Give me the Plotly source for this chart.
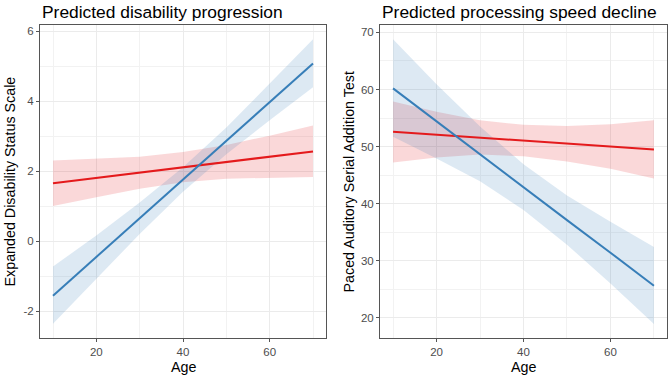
import plotly.graph_objects as go

# ---- data ----
age = [10, 20, 30, 40, 50, 60, 70]

# Left panel: Expanded Disability Status Scale
edss_red_fit = [1.66, 1.81, 1.96, 2.12, 2.27, 2.42, 2.57]
edss_red_lo = [1.01, 1.26, 1.50, 1.69, 1.79, 1.82, 1.84]
edss_red_hi = [2.31, 2.36, 2.42, 2.55, 2.75, 3.02, 3.31]
edss_blue_fit = [-1.55, -0.45, 0.66, 1.77, 2.87, 3.98, 5.08]
edss_blue_lo = [-2.35, -1.07, 0.21, 1.42, 2.49, 3.46, 4.40]
edss_blue_hi = [-0.72, 0.17, 1.11, 2.12, 3.25, 4.50, 5.77]

# Right panel: Paced Auditory Serial Addition Test
pasat_red_fit = [52.6, 52.1, 51.6, 51.05, 50.5, 50.0, 49.5]
pasat_red_lo = [47.2, 48.1, 48.6, 48.3, 47.4, 46.1, 44.4]
pasat_red_hi = [57.9, 56.1, 54.6, 53.8, 53.6, 53.9, 54.6]
pasat_blue_fit = [60.2, 54.4, 48.7, 42.9, 37.1, 31.4, 25.6]
pasat_blue_lo = [51.7, 47.9, 43.9, 38.9, 32.8, 26.0, 18.9]
pasat_blue_hi = [68.8, 60.9, 53.5, 46.9, 41.4, 36.8, 32.4]

x_ticks = [20, 40, 60]
edss_ticks = [-2, 0, 2, 4, 6]
edss_tick_labels = ["-2", "0", "2", "4", "6"]
pasat_ticks = [20, 30, 40, 50, 60, 70]

titles = ["Predicted disability progression", "Predicted processing speed decline"]
y_titles = ["Expanded Disability Status Scale", "Paced Auditory Serial Addition Test"]

RED = "#E41A1C"
BLUE = "#377EB8"
RED_FILL = "rgba(228,26,28,0.17)"
BLUE_FILL = "rgba(55,126,184,0.17)"
FONT = "Liberation Sans, Arial, sans-serif"

fig = go.Figure()


def add_panel(xa, ya, red, blue):
    for fit, lo, hi, fill in [(red[0], red[1], red[2], RED_FILL), (blue[0], blue[1], blue[2], BLUE_FILL)]:
        fig.add_trace(go.Scatter(
            x=age + age[::-1], y=hi + lo[::-1], fill="toself", fillcolor=fill,
            line=dict(width=0), mode="lines", hoverinfo="skip", showlegend=False,
            xaxis=xa, yaxis=ya))
    fig.add_trace(go.Scatter(x=age, y=red[0], mode="lines", line=dict(color=RED, width=2),
                             showlegend=False, xaxis=xa, yaxis=ya))
    fig.add_trace(go.Scatter(x=age, y=blue[0], mode="lines", line=dict(color=BLUE, width=2),
                             showlegend=False, xaxis=xa, yaxis=ya))


add_panel("x", "y", (edss_red_fit, edss_red_lo, edss_red_hi), (edss_blue_fit, edss_blue_lo, edss_blue_hi))
add_panel("x2", "y2", (pasat_red_fit, pasat_red_lo, pasat_red_hi), (pasat_blue_fit, pasat_blue_lo, pasat_blue_hi))

W, H = 669, 376
ydom = [(H - 338) / H, (H - 25) / H]

axis_common = dict(
    showgrid=True, gridcolor="#EBEBEB", gridwidth=1,
    zeroline=False, showline=True, linecolor="#555555", linewidth=1, mirror=True,
    ticks="outside", ticklen=3, tickcolor="#555555", tickwidth=1,
    tickfont=dict(family=FONT, size=11.5, color="#4D4D4D"),
)
minor = dict(showgrid=True, gridcolor="#F2F2F2", gridwidth=0.7, ticks="")

fig.update_layout(
    width=W, height=H, margin=dict(l=0, r=0, t=0, b=0),
    paper_bgcolor="white", plot_bgcolor="white",
    font=dict(family=FONT, color="black"),
    xaxis=dict(axis_common, domain=[40 / W, 326 / W], range=[7, 73], tickvals=x_ticks,
               minor=dict(minor, dtick=10, tick0=10), anchor="y"),
    yaxis=dict(axis_common, domain=ydom, range=[-2.76, 6.18], tickvals=edss_ticks,
               ticktext=edss_tick_labels,
               minor=dict(minor, dtick=1, tick0=1), anchor="x"),
    xaxis2=dict(axis_common, domain=[380 / W, 667 / W], range=[7, 73], tickvals=x_ticks,
                minor=dict(minor, dtick=10, tick0=10), anchor="y2"),
    yaxis2=dict(axis_common, domain=ydom, range=[16.45, 71.3], tickvals=pasat_ticks,
                minor=dict(minor, dtick=5, tick0=15), anchor="x2"),
)

ann = []
# titles
for xp, t in [(40 / W, titles[0]), (380 / W, titles[1])]:
    ann.append(dict(text=t, x=xp, y=(H - 12) / H, xref="paper", yref="paper",
                    xanchor="left", yanchor="middle", showarrow=False,
                    font=dict(family=FONT, size=17.4, color="black")))
# x titles
for xp in [(40 + 326) / 2 / W, (380 + 667) / 2 / W]:
    ann.append(dict(text="Age", x=xp, y=(H - 366.5) / H, xref="paper", yref="paper",
                    xanchor="center", yanchor="middle", showarrow=False,
                    font=dict(family=FONT, size=14.3, color="black")))
# y titles
for xp, t in [(9 / W, y_titles[0]), (348 / W, y_titles[1])]:
    ann.append(dict(text=t, x=xp, y=(ydom[0] + ydom[1]) / 2, xref="paper", yref="paper",
                    xanchor="center", yanchor="middle", textangle=-90, showarrow=False,
                    font=dict(family=FONT, size=14.3, color="black")))
fig.update_layout(annotations=ann)

fig.write_html("out.html")
